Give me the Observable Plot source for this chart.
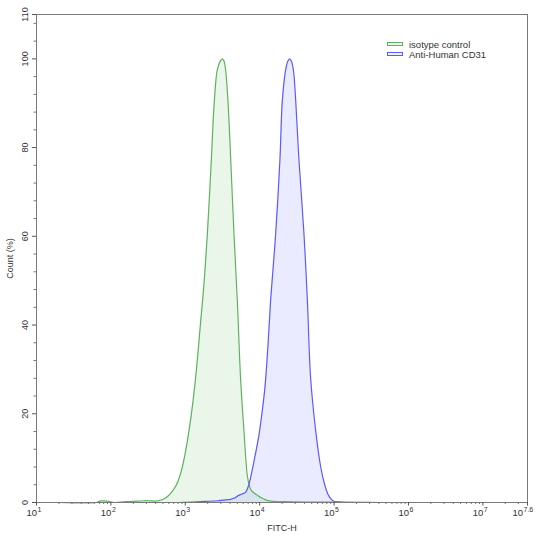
<!DOCTYPE html>
<html>
<head>
<meta charset="utf-8">
<script src="https://cdn.jsdelivr.net/npm/d3@7"></script>
<script src="https://cdn.jsdelivr.net/npm/@observablehq/plot@0.6"></script>
<style>
  html, body { margin: 0; padding: 0; background: #fff; }
  #wrap { position: relative; width: 536px; height: 538px; font-family: "Liberation Sans", Arial, sans-serif; }
  .leg { position: absolute; left: 387px; font-size: 9.5px; line-height: 10px; color: #333; white-space: nowrap; }
  .sw { display: inline-block; width: 14px; height: 2.5px; margin-right: 6px; vertical-align: 2px; }
</style>
</head>
<body>
<div id="wrap"></div>
<script>
// ---- data (FITC-H intensity, Count %) ----
const seriesNames = ["isotype control", "Anti-Human CD31"];
const seriesColors = ["#5cb35c", "#5a5aff"];

const isoX = [20, 63, 71, 89, 112, 158, 224, 316, 398, 466, 562, 631, 708, 794, 891, 1000, 1122, 1259, 1413, 1585, 1778, 1995, 2239, 2427, 2692, 2951, 3148, 3311, 3483, 3741, 4064, 4508, 5000, 5546, 6138, 6887, 7551, 8318, 9376, 10715, 12023, 14028, 19953, 39811, 100000, 199526];
const isoY = [0, 0, 0.3, 0.3, 0, 0.2, 0.3, 0.4, 0.3, 0.5, 1.2, 2.0, 3.1, 4.7, 7.3, 11.2, 16.2, 22.3, 30, 39.5, 49, 61.5, 77.2, 89, 97.5, 99.5, 100, 99.5, 97.5, 90.7, 78, 60.6, 45.6, 27.7, 16.3, 5.6, 3.0, 2.2, 1.6, 1.0, 0.6, 0.3, 0.2, 0.1, 0.1, 0];

const cd31X = [631, 1000, 1607, 2716, 3548, 4064, 4571, 5212, 5754, 6471, 7079, 7551, 8551, 9683, 10617, 11776, 12882, 14028, 16406, 18707, 20184, 22336, 23988, 25293, 26607, 28379, 30479, 33729, 39355, 43752, 48417, 56494, 66069, 74817, 82035, 89125, 98855, 122744, 228034, 398107];
const cd31Y = [0, 0.05, 0.2, 0.4, 0.6, 0.7, 1.0, 1.6, 1.9, 2.3, 3.8, 5.6, 10, 14.8, 19.5, 26, 35, 45.6, 60.6, 77.2, 90.7, 97.5, 99.5, 100, 99.5, 97.5, 90.7, 77.2, 60.6, 45.6, 28, 16.3, 8, 4, 2, 1, 0.3, 0.1, 0.05, 0];

// ---- ticks ----
const xTickExps = [1, 2, 3, 4, 5, 6, 7];
const xEndExp = 7.6;
const yTickLabels = [0, 20, 40, 60, 80, 100, 110];
const yMinorTicks = [4, 8, 12, 16, 24, 28, 32, 36, 44, 48, 52, 56, 64, 68, 72, 76, 84, 88, 92, 96, 104, 108];
const xMinorMult = [2, 3, 4, 5, 6, 7, 8, 9];

const xMin = 10;
const xMax = 10 ** xEndExp;
const xMinor = [];
for (const e of xTickExps) for (const m of xMinorMult) { const v = m * 10 ** e; if (v < xMax) xMinor.push(v); }

const iso = isoX.map((x, i) => ({x, y: isoY[i]}));
const cd31 = cd31X.map((x, i) => ({x, y: cd31Y[i]}));

const font = "Liberation Sans, Arial, sans-serif";
const txt = "#333";
const curve = "catmull-rom";

const chart = Plot.plot({
  width: 536,
  height: 538,
  marginLeft: 36,
  marginRight: 9,
  marginTop: 14,
  marginBottom: 36,
  style: {fontFamily: font, background: "#fff"},
  x: {type: "log", domain: [xMin, xMax], axis: null},
  y: {domain: [0, 110], axis: null, clamp: true},
  marks: [
    Plot.areaY(iso, {x: "x", y: "y", fill: seriesColors[0], fillOpacity: 0.12, curve}),
    Plot.areaY(cd31, {x: "x", y: "y", fill: seriesColors[1], fillOpacity: 0.12, curve}),
    Plot.line(iso, {x: "x", y: "y", stroke: seriesColors[0], strokeWidth: 1.2, curve}),
    Plot.line(cd31, {x: "x", y: "y", stroke: seriesColors[1], strokeWidth: 1.2, curve}),
    Plot.frame({stroke: "#7a7a7a", strokeWidth: 1}),
    // x axis ticks
    Plot.axisX({ticks: [...xTickExps.map(e => 10 ** e), xMax], tickSize: 3.5, tickFormat: () => "", stroke: "#555", anchor: "bottom", label: null}),
    Plot.axisX({ticks: xMinor, tickSize: 2, tickFormat: () => "", stroke: "#777", anchor: "bottom", label: null}),
    // x tick labels 10^n
    Plot.text(xTickExps, {x: d => 10 ** d, text: () => "10", frameAnchor: "bottom", textAnchor: "end", dx: 0.5, dy: 13, fontSize: 9.5, fill: txt}),
    Plot.text(xTickExps, {x: d => 10 ** d, text: d => String(d), frameAnchor: "bottom", textAnchor: "start", dx: 1, dy: 9, fontSize: 7, fill: txt}),
    Plot.text([xEndExp], {x: d => 10 ** d, text: () => "10", frameAnchor: "bottom", textAnchor: "end", dx: -4.5, dy: 13, fontSize: 9.5, fill: txt}),
    Plot.text([xEndExp], {x: d => 10 ** d, text: d => String(d), frameAnchor: "bottom", textAnchor: "start", dx: -4, dy: 9, fontSize: 7, fill: txt}),
    Plot.text(["FITC-H"], {frameAnchor: "bottom", dy: 28, fontSize: 9, fill: txt}),
    // y axis ticks
    Plot.axisY({ticks: yTickLabels, tickSize: 4, tickFormat: () => "", stroke: "#555", anchor: "left", label: null}),
    Plot.axisY({ticks: yMinorTicks, tickSize: 2.5, tickFormat: () => "", stroke: "#777", anchor: "left", label: null}),
    Plot.text(yTickLabels, {x: () => xMin, y: d => d, text: d => String(d), dx: -11.5, rotate: -90, textAnchor: "middle", lineAnchor: "middle", fontSize: 9, fill: txt}),
    Plot.text(["Count (%)"], {x: () => xMin, y: () => 55, dx: -26, rotate: -90, textAnchor: "middle", lineAnchor: "middle", fontSize: 9, fill: txt})
  ]
});

const wrap = document.getElementById("wrap");
wrap.appendChild(chart);

seriesNames.forEach((name, i) => {
  const row = document.createElement("div");
  row.className = "leg";
  row.style.top = (40 + i * 10) + "px";
  const sw = document.createElement("span");
  sw.className = "sw";
  sw.style.border = "1px solid " + seriesColors[i];
  sw.style.background = i === 0 ? "#eef7ee" : "#eeeeff";
  row.appendChild(sw);
  row.appendChild(document.createTextNode(name));
  wrap.appendChild(row);
});
</script>
</body>
</html>
